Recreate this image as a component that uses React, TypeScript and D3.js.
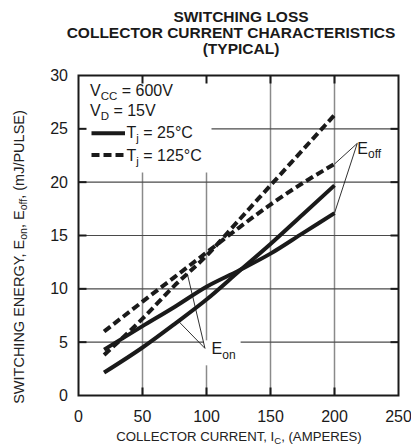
import React from 'react';
import * as d3 from 'd3';

// collector current (A) sample points shared by all curves
const current = [20, 50, 75, 100, 125, 150, 175, 200];
// switching energy, mJ/pulse
const eon25 = [2.15, 4.5, 6.7, 9.0, 11.6, 14.2, 16.95, 19.7];
const eoff25 = [4.3, 6.5, 8.3, 10.2, 11.7, 13.3, 15.2, 17.1];
const eon125 = [3.8, 7.2, 10.3, 13.1, 16.4, 19.7, 23.0, 26.3];
const eoff125 = [6.0, 8.8, 11.1, 13.4, 15.7, 17.9, 19.9, 21.7];

const xTicks = [0, 50, 100, 150, 200, 250];
const yTicks = [0, 5, 10, 15, 20, 25, 30];
const titleLines = ['SWITCHING LOSS', 'COLLECTOR CURRENT CHARACTERISTICS', '(TYPICAL)'];

const series = [
  { key: 'eon25', values: eon25, dashed: false },
  { key: 'eoff25', values: eoff25, dashed: false },
  { key: 'eon125', values: eon125, dashed: true },
  { key: 'eoff125', values: eoff125, dashed: true },
];

const FONT = '"Liberation Sans", Arial, Helvetica, sans-serif';
const INK = '#1a1a1a';

const App = () => {
  const W = 411;
  const H = 448;
  const x = d3.scaleLinear().domain([0, 250]).range([78.5, 398.5]);
  const y = d3.scaleLinear().domain([0, 30]).range([395.5, 75.5]);

  const line = d3
    .line<number>()
    .x((_, i) => x(current[i]))
    .y((d) => y(d))
    .curve(d3.curveMonotoneX);

  // value along a curve, only used to land the callout leaders on it
  const at = (values: number[], xv: number) =>
    d3.scaleLinear().domain(current).range(values)(xv);

  // callouts, in data units
  const eonLabel = { x: 104, y: 3.86 };
  const eonApex = { x: 98.8, y: 4.42 };
  const eonTargets = [
    { x: 85, y: at(eon125, 85) },
    { x: 78, y: at(eon25, 78) },
  ];
  const eoffLabel = { x: 217.8, y: 22.6 };
  const eoffApex = { x: 217.8, y: 23.64 };
  const eoffTargets = [
    { x: 200, y: eoff125[eoff125.length - 1] },
    { x: 200, y: eoff25[eoff25.length - 1] },
  ];

  const [x0, x1] = x.range();
  const [y0, y1] = y.range();

  return (
    <svg
      width={W}
      height={H}
      style={{ position: 'absolute', left: 0, top: 0, background: '#fff' }}
      fontFamily={FONT}
    >
      {/* title */}
      <g fontWeight="bold" fontSize={15.5} fill={INK} textAnchor="middle">
        <text x={241} y={21.5}>{titleLines[0]}</text>
        <text x={231} y={38}>{titleLines[1]}</text>
        <text x={241} y={53.5}>{titleLines[2]}</text>
      </g>

      {/* grid */}
      {xTicks.slice(1, -1).map((t) => (
        <line key={'gx' + t} x1={x(t)} x2={x(t)} y1={y1} y2={y0} stroke="#8a8a8a" strokeWidth={1.5} />
      ))}
      {yTicks.slice(1, -1).map((t) => (
        <line key={'gy' + t} x1={x0} x2={x1} y1={y(t)} y2={y(t)} stroke="#4a4a4a" strokeWidth={1.1} />
      ))}

      {/* legend box */}
      <rect x={x0 + 1} y={y1 + 1} width={132} height={96} fill="#fff" />
      {/* label backgrounds */}
      <rect x={x(eonLabel.x) - 8} y={y(eonLabel.y) - 14} width={37} height={25} fill="#fff" />
      <rect x={x(eoffLabel.x) - 2} y={y(eoffLabel.y) - 14} width={30} height={22} fill="#fff" />

      {/* curves */}
      {series.map((s) => (
        <path
          key={s.key}
          d={line(s.values) || ''}
          fill="none"
          stroke={INK}
          strokeWidth={4}
          strokeDasharray={s.dashed ? '8,4' : undefined}
        />
      ))}

      {/* callout leaders */}
      {eonTargets.map((p, i) => (
        <line key={'lon' + i} x1={x(eonApex.x)} y1={y(eonApex.y)} x2={x(p.x)} y2={y(p.y)} stroke={INK} strokeWidth={0.9} />
      ))}
      {eoffTargets.map((p, i) => (
        <line key={'loff' + i} x1={x(eoffApex.x)} y1={y(eoffApex.y)} x2={x(p.x)} y2={y(p.y)} stroke={INK} strokeWidth={0.9} />
      ))}

      {/* inward ticks */}
      {xTicks.slice(1, -1).map((t) => (
        <g key={'tx' + t}>
          <line x1={x(t)} x2={x(t)} y1={y0} y2={y0 - 8} stroke={INK} strokeWidth={2} />
          <line x1={x(t)} x2={x(t)} y1={y1} y2={y1 + 8} stroke={INK} strokeWidth={2} />
        </g>
      ))}
      {yTicks.slice(1, -1).map((t) => (
        <g key={'ty' + t}>
          <line x1={x0} x2={x0 + 8} y1={y(t)} y2={y(t)} stroke={INK} strokeWidth={2} />
          <line x1={x1} x2={x1 - 8} y1={y(t)} y2={y(t)} stroke={INK} strokeWidth={2} />
        </g>
      ))}

      {/* frame */}
      <rect x={x0} y={y1} width={x1 - x0} height={y0 - y1} fill="none" stroke={INK} strokeWidth={2} />

      {/* legend */}
      <g fill={INK} fontSize={16}>
        <text x={90} y={96}>
          V<tspan fontSize={11.5} dy={4}>CC</tspan>
          <tspan dy={-4}> = 600V</tspan>
        </text>
        <text x={90} y={116}>
          V<tspan fontSize={11.5} dy={4}>D</tspan>
          <tspan dy={-4}> = 15V</tspan>
        </text>
        <line x1={91.5} x2={125} y1={133.3} y2={133.3} stroke={INK} strokeWidth={4} />
        <text x={126.5} y={138}>
          T<tspan fontSize={11.5} dy={4}>j</tspan>
          <tspan dy={-4}> = 25°C</tspan>
        </text>
        <line x1={91.5} x2={125} y1={155} y2={155} stroke={INK} strokeWidth={4} strokeDasharray="8,4" />
        <text x={126.5} y={160.5}>
          T<tspan fontSize={11.5} dy={4}>j</tspan>
          <tspan dy={-4}> = 125°C</tspan>
        </text>
      </g>

      {/* callout labels */}
      <g fill={INK} fontSize={16}>
        <text x={x(eonLabel.x)} y={y(eonLabel.y)}>
          E<tspan fontSize={12} dy={5}>on</tspan>
        </text>
        <text x={x(eoffLabel.x)} y={y(eoffLabel.y)}>
          E<tspan fontSize={12} dy={4}>off</tspan>
        </text>
      </g>

      {/* tick labels */}
      <g fill={INK} fontSize={16}>
        {xTicks.map((t) => (
          <text key={'lx' + t} x={x(t)} y={421.5} textAnchor="middle">{t}</text>
        ))}
        {yTicks.map((t) => (
          <text key={'ly' + t} x={68} y={y(t)} dy="0.35em" textAnchor="end">{t}</text>
        ))}
      </g>

      {/* axis titles */}
      <text x={239} y={441} fontSize={13.2} fill="#222" textAnchor="middle">
        COLLECTOR CURRENT, I<tspan fontSize={9.5} dy={3}>C</tspan>
        <tspan dy={-3}>, (AMPERES)</tspan>
      </text>
      <text
        transform={`translate(24, 257) rotate(-90)`}
        fontSize={14.5}
        fill="#222"
        textAnchor="middle"
      >
        SWITCHING ENERGY, E<tspan fontSize={10.5} dy={3}>on</tspan>
        <tspan dy={-3}>, E</tspan>
        <tspan fontSize={10.5} dy={3}>off</tspan>
        <tspan dy={-3}>, (mJ/PULSE)</tspan>
      </text>
    </svg>
  );
};

export default App;
